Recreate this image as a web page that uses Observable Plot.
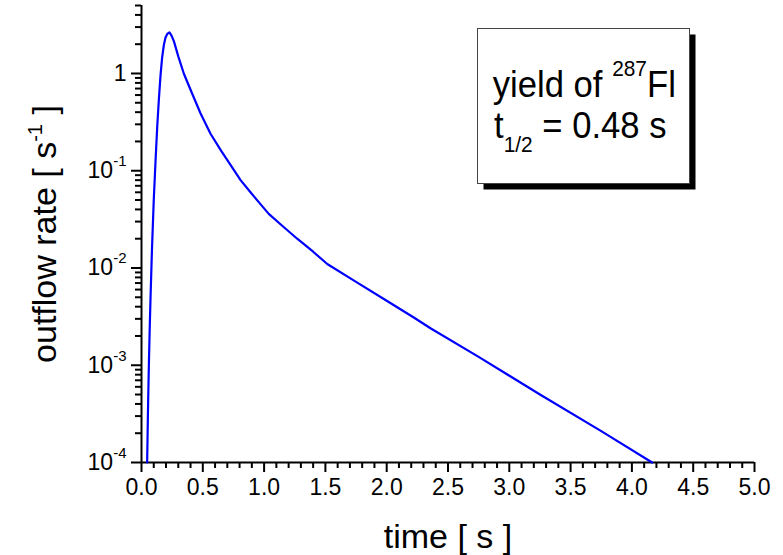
<!DOCTYPE html>
<html><head><meta charset="utf-8">
<script src="https://cdn.jsdelivr.net/npm/d3@7"></script>
<script src="https://cdn.jsdelivr.net/npm/@observablehq/plot@0.6"></script>
<style>
body{margin:0;background:#fff;}
#chart svg{display:block;}
</style></head><body><div id="chart"></div>
<script>
// time [s]
const time = [0.046, 0.053, 0.060, 0.067, 0.073, 0.085, 0.100, 0.115, 0.128, 0.142, 0.155, 0.168, 0.182, 0.196, 0.210, 0.228, 0.245, 0.264, 0.300, 0.345, 0.400, 0.481, 0.563, 0.650, 0.726, 0.808, 0.889, 0.960, 1.038, 1.150, 1.270, 1.400, 1.515, 1.750, 2.000, 2.221, 2.357, 2.750, 3.250, 3.750, 4.165];
// outflow rate [1/s]
const rate = [1.0e-4, 3.5e-4, 1.0e-3, 2.4e-3, 4.6e-3, 1.5e-2, 5.0e-2, 1.3e-1, 2.8e-1, 5.5e-1, 0.95, 1.45, 1.95, 2.35, 2.55, 2.65, 2.45, 2.15, 1.5, 1.0, 0.68, 0.39, 0.24, 0.16, 0.115, 0.080, 0.060, 0.047, 0.036, 0.027, 0.020, 0.0147, 0.011, 0.0072, 0.0046, 0.0031, 0.0024, 0.00122, 0.00050, 0.00021, 0.0001];

const xMajorTicks = [0, 0.5, 1, 1.5, 2, 2.5, 3, 3.5, 4, 4.5, 5];
const yMajorTicks = [1e-4, 1e-3, 1e-2, 1e-1, 1];
const yTickBase = ["10", "10", "10", "10", "1"];
const yTickExp = ["-4", "-3", "-2", "-1", ""];
const legendName = "yield of ";
const legendIsotope = "287";
const legendElement = "Fl";
const legendHalfLife = "0.48 s";

const xMinorTicks = d3.range(0, 51).map(i => i / 10).filter(v => Math.round(v * 10) % 5 !== 0);
const yMinorTicks = [];
for (let e = -4; e <= 0; e++) for (let k = 2; k <= 9; k++) { const v = k * Math.pow(10, e); if (v <= 5.0001) yMinorTicks.push(v); }

const data = time.map((t, i) => ({t, r: rate[i]}));
const font = "'Liberation Sans', Arial, sans-serif";

const chart = Plot.plot({
  width: 783, height: 555,
  marginLeft: 141, marginRight: 29, marginTop: 5, marginBottom: 93,
  style: {fontFamily: font, background: "white", color: "black", overflow: "visible"},
  x: {domain: [0, 5]},
  y: {type: "log", domain: [1e-4, 5]},
  marks: [
    Plot.axisX(xMinorTicks, {tickSize: 6, strokeWidth: 2, tickFormat: () => "", label: null}),
    Plot.axisX(xMajorTicks, {tickSize: 10, strokeWidth: 2, tickPadding: 6, fontSize: 23, tickFormat: d => d.toFixed(1),
      label: "time [ s ]", labelAnchor: "center", labelArrow: "none", labelOffset: 85}),
    Plot.axisY(yMinorTicks, {tickSize: 6, strokeWidth: 2, tickFormat: () => "", label: null}),
    Plot.axisY(yMajorTicks, {tickSize: 10, strokeWidth: 2, tickPadding: 5, fontSize: 23,
      tickFormat: d => { const i = yMajorTicks.findIndex(v => Math.abs(v - d) / v < 1e-6); return yTickBase[i] + (yTickExp[i] ? "^" + yTickExp[i] : ""); },
      label: "outflow rate [ s^-1 ]", labelAnchor: "center", labelArrow: "none", labelOffset: 110}),
    Plot.ruleY([1e-4], {stroke: "black", strokeWidth: 2}),
    Plot.ruleX([0], {stroke: "black", strokeWidth: 2}),
    Plot.line(data, {x: "t", y: "r", stroke: "#0000ff", strokeWidth: 2.2})
  ]
});
document.getElementById("chart").appendChild(chart);

const svg = d3.select(chart);
// superscripts in y tick labels
svg.selectAll('g[aria-label="y-axis tick label"] text').each(function () {
  const s = this.textContent;
  if (s.includes("^")) {
    const [b, e] = s.split("^");
    const t = d3.select(this); t.text(null);
    t.append("tspan").text(b);
    t.append("tspan").attr("dy", -12).attr("font-size", 15).text(e);
  }
});
// axis titles
svg.selectAll('g[aria-label="x-axis label"]').attr("font-size", 34);
svg.selectAll('g[aria-label="y-axis label"]').attr("font-size", 34);
svg.selectAll('g[aria-label="y-axis label"] text').each(function () {
  const s = this.textContent;
  if (s.includes("^")) {
    const [b, rest] = s.split("^");
    const [e, tail] = [rest.slice(0, 2), rest.slice(2)];
    const t = d3.select(this); t.text(null);
    t.append("tspan").text(b);
    t.append("tspan").attr("dy", -14).attr("font-size", 20).text(e);
    t.append("tspan").attr("dy", 14).text(tail);
  }
});

// legend box with shadow
const lg = svg.append("g").attr("font-family", font).attr("fill", "black").attr("text-anchor", "start");
lg.append("rect").attr("x", 483.5).attr("y", 34.5).attr("width", 212).attr("height", 155).attr("fill", "black");
lg.append("rect").attr("x", 477.5).attr("y", 28.5).attr("width", 212).attr("height", 155).attr("fill", "white").attr("stroke", "#444").attr("stroke-width", 1);
const l1 = lg.append("text").attr("text-anchor", "start").attr("transform", "translate(492.7,96.5) scale(0.95,1)").attr("font-size", 36.5);
l1.append("tspan").text(legendName);
l1.append("tspan").attr("font-size", 22).attr("dy", -21).text(legendIsotope);
l1.append("tspan").attr("dy", 21).text(legendElement);
const l2 = lg.append("text").attr("text-anchor", "start").attr("transform", "translate(494,137.5) scale(0.95,1)").attr("font-size", 36.5);
l2.append("tspan").text("t");
l2.append("tspan").attr("font-size", 22).attr("dy", 14).text("1/2");
l2.append("tspan").attr("dy", -14).text(" = " + legendHalfLife);
</script>
</body></html>
